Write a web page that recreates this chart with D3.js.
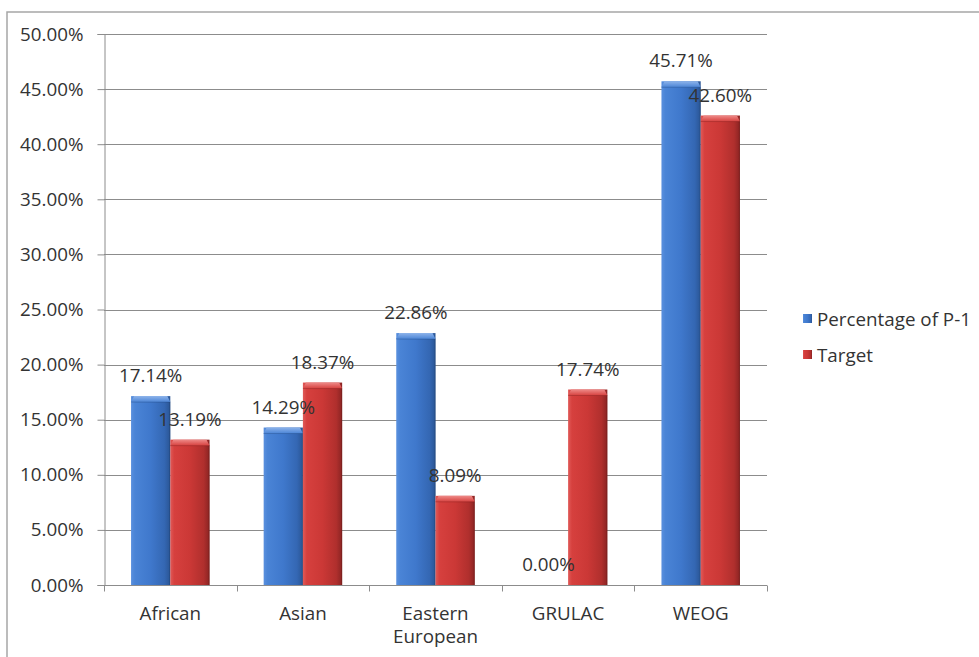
<!DOCTYPE html>
<html>
<head>
<meta charset="utf-8">
<script src="https://cdn.jsdelivr.net/npm/d3@7"></script>
<style>
  html, body { margin: 0; padding: 0; background: #ffffff; }
  svg { display: block; font-family: "Open Sans", "Liberation Sans", sans-serif; }
</style>
</head>
<body>
<svg id="chart" width="979" height="657"></svg>
<script>
// Regional group shares: current percentage vs. target
const categories = ["African", "Asian", "Eastern European", "GRULAC", "WEOG"];
const categoryLines = [["African"], ["Asian"], ["Eastern", "European"], ["GRULAC"], ["WEOG"]];
const seriesNames = ["Percentage of P-1", "Target"];
const percentageP1 = [17.14, 14.29, 22.86, 0.00, 45.71];
const target = [13.19, 18.37, 8.09, 17.74, 42.60];
const yTicks = [0, 5, 10, 15, 20, 25, 30, 35, 40, 45, 50];

const FONT = 18.8;
const TEXT = "#333333";
const svg = d3.select("#chart");
const plot = { left: 104, right: 767, top: 34, bottom: 585 };

// Outer frame (top and left edges)
svg.append("path")
  .attr("d", "M7,657 L7,12 L979,12")
  .attr("fill", "none").attr("stroke", "#a6a6a6").attr("stroke-width", 1.5);

const y = d3.scaleLinear().domain([0, 50]).range([plot.bottom, plot.top]);
const x0 = d3.scaleBand().domain(categories).range([plot.left, plot.right]).padding(0);
const bw = x0.bandwidth();
const x1 = d3.scaleBand().domain(seriesNames).range([bw * 0.204, bw * 0.796]).padding(0);

const colors = {
  "Percentage of P-1": {
    stops: ["#5a90de", "#4a84d6", "#3f78cc", "#3467b3", "#2a5594"],
    capTop: "#8db3ea", capBottom: "#4a84d6", edge: "#1f406f"
  },
  "Target": {
    stops: ["#e05a58", "#d6403e", "#cb3836", "#b02f2d", "#8a2423"],
    capTop: "#ee8a88", capBottom: "#d6403e", edge: "#6e1b1a"
  }
};

const defs = svg.append("defs");
seriesNames.forEach((s, i) => {
  const c = colors[s];
  const g = defs.append("linearGradient").attr("id", "grad" + i)
    .attr("x1", "0").attr("x2", "1").attr("y1", "0").attr("y2", "0");
  [0, 0.1, 0.5, 0.85, 1].forEach((o, k) =>
    g.append("stop").attr("offset", o).attr("stop-color", c.stops[k]));
  const t = defs.append("linearGradient").attr("id", "cap" + i)
    .attr("x1", "0").attr("x2", "0").attr("y1", "0").attr("y2", "1");
  t.append("stop").attr("offset", "0").attr("stop-color", c.capTop);
  t.append("stop").attr("offset", "1").attr("stop-color", c.capBottom);
});

// Gridlines
svg.append("g").selectAll("line").data(yTicks.filter(d => d > 0)).join("line")
  .attr("x1", plot.left).attr("x2", plot.right)
  .attr("y1", d => Math.round(y(d)) + 0.5).attr("y2", d => Math.round(y(d)) + 0.5)
  .attr("stroke", "#8c8c8c").attr("stroke-width", 1);

// Y axis
const yAxis = svg.append("g").attr("transform", `translate(${plot.left + 0.5},0)`)
  .call(d3.axisLeft(y).tickValues(yTicks).tickSize(7).tickPadding(14)
    .tickFormat(d => d.toFixed(2) + "%"));
yAxis.select(".domain").attr("stroke", "#8c8c8c");
yAxis.selectAll(".tick line").attr("stroke", "#8c8c8c");
yAxis.selectAll("text").attr("font-size", FONT).attr("fill", TEXT)
  .attr("font-family", "'Open Sans', sans-serif");

// Bars
const data = [percentageP1, target];
const groups = svg.append("g").selectAll("g").data(categories).join("g")
  .attr("transform", d => `translate(${x0(d)},0)`);

groups.each(function(cat, ci) {
  const g = d3.select(this);
  seriesNames.forEach((s, si) => {
    const v = data[si][ci];
    const bx = x1(s), w = x1.bandwidth();
    const top = y(v), h = y(0) - top;
    if (h <= 0) return;
    g.append("rect").attr("x", bx).attr("y", top).attr("width", w).attr("height", h)
      .attr("fill", `url(#grad${si})`);
    // bevelled top cap
    const cap = Math.min(6, h);
    g.append("path")
      .attr("d", `M${bx},${top + cap} L${bx + 3},${top} L${bx + w - 3},${top} L${bx + w},${top + cap} Z`)
      .attr("fill", `url(#cap${si})`);
    g.append("line").attr("x1", bx).attr("x2", bx + w)
      .attr("y1", top + cap).attr("y2", top + cap)
      .attr("stroke", colors[s].edge).attr("stroke-opacity", 0.3);
    // dark right edge
    g.append("line").attr("x1", bx + w - 0.5).attr("x2", bx + w - 0.5)
      .attr("y1", top + cap).attr("y2", top + h)
      .attr("stroke", colors[s].edge).attr("stroke-opacity", 0.5);
  });
});

// Value labels
groups.each(function(cat, ci) {
  const g = d3.select(this);
  seriesNames.forEach((s, si) => {
    const v = data[si][ci];
    g.append("text")
      .attr("x", x1(s) + x1.bandwidth() / 2)
      .attr("y", y(v) - 14)
      .attr("text-anchor", "middle")
      .attr("font-size", FONT).attr("fill", TEXT)
      .text(v.toFixed(2) + "%");
  });
});

// X axis
const xAxisG = svg.append("g").attr("transform", `translate(0,${plot.bottom + 0.5})`);
xAxisG.append("line").attr("x1", plot.left).attr("x2", plot.right)
  .attr("stroke", "#8c8c8c");
const boundaries = categories.map(c => x0(c)).concat([plot.right]);
xAxisG.selectAll("line.tick").data(boundaries).join("line").attr("class", "tick")
  .attr("x1", d => Math.round(d) + 0.5).attr("x2", d => Math.round(d) + 0.5)
  .attr("y1", 0).attr("y2", 6).attr("stroke", "#8c8c8c");
xAxisG.selectAll("text.cat").data(categoryLines).join("text").attr("class", "cat")
  .attr("x", (d, i) => x0(categories[i]) + bw / 2)
  .attr("y", 34)
  .attr("text-anchor", "middle")
  .attr("font-size", FONT).attr("fill", TEXT)
  .each(function(lines) {
    const t = d3.select(this);
    lines.forEach((l, li) => t.append("tspan")
      .attr("x", t.attr("x")).attr("dy", li === 0 ? 0 : 23).text(l));
  });

// Legend
const legend = svg.append("g").attr("transform", "translate(803,310)");
seriesNames.forEach((s, i) => {
  const row = legend.append("g").attr("transform", `translate(0,${i * 36})`);
  row.append("rect").attr("x", 0).attr("y", 4).attr("width", 9).attr("height", 9)
    .attr("fill", `url(#grad${i})`);
  row.append("text").attr("x", 14).attr("y", 16)
    .attr("font-size", FONT).attr("fill", TEXT).text(s);
});
</script>
</body>
</html>
